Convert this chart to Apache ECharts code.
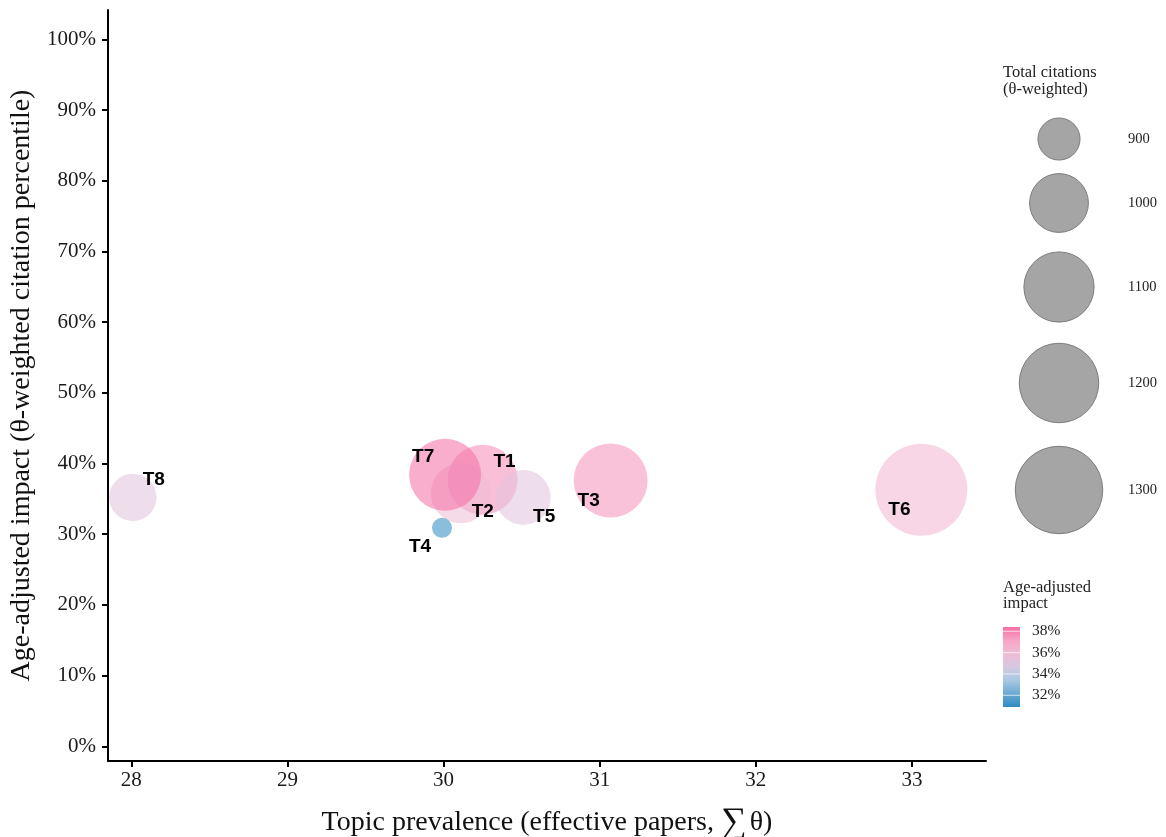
<!DOCTYPE html>
<html>
<head>
<meta charset="utf-8">
<script src="https://cdn.jsdelivr.net/npm/echarts@6/dist/echarts.min.js"></script>
<style>
html,body{margin:0;padding:0;background:#fff;}
#chart{width:1166px;height:837px;}
</style>
</head>
<body>
<div id="chart"></div>
<script>
// ---- data ----
const topics = ['T1','T2','T3','T4','T5','T6','T7','T8'];
const prevalence = [30.25, 30.11, 31.07, 29.99, 30.51, 33.06, 30.01, 28.01];
const impact = [37.7, 35.8, 37.6, 30.9, 35.2, 36.3, 38.4, 35.2];
const citations = [1098, 1009, 1139, 852, 972, 1362, 1118, 926];
const xTicks = [28, 29, 30, 31, 32, 33];
const yTicks = [0, 10, 20, 30, 40, 50, 60, 70, 80, 90, 100];
const sizeBreaks = [900, 1000, 1100, 1200, 1300];
const colorBreaks = [32, 34, 36, 38];

// ---- layout / style (not data) ----
const labelOffsets = {
  T1: [22, -18], T2: [22, 19], T3: [-22, 20], T4: [-22, 19],
  T5: [21, 19], T6: [-22, 20], T7: [-22, -18], T8: [21, -18]
};
const paletteRGB = [[47,139,195],[106,169,210],[169,201,227],[213,200,224],[240,188,212],[247,165,198],[245,111,165]];
const palette = paletteRGB.map(c => 'rgb(' + c.join(',') + ')');
const paletteA = paletteRGB.map(c => 'rgba(' + c.join(',') + ',0.7)');
const serif = '"Liberation Serif", "DejaVu Serif", serif';

const cMin = Math.min(...citations), cMax = Math.max(...citations);
const rMin = 10, rMax = 46;
function radius(v) {
  const f = Math.max(0, (v - cMin) / (cMax - cMin));
  return rMin + (rMax - rMin) * Math.sqrt(f);
}
const iMin = Math.min(...impact), iMax = Math.max(...impact);

const data = topics.map((t, i) => ({
  name: t,
  value: [prevalence[i], impact[i], citations[i]]
}));

// ---- legends (graphic) ----
const graphics = [];
graphics.push({
  type: 'text', left: 1003, top: 64,
  style: { text: 'Total citations\n(θ-weighted)', font: '16.5px ' + serif, fill: '#222', lineHeight: 17 }
});
const sizeCentersY = [139, 203, 287, 383, 490];
sizeBreaks.forEach((b, k) => {
  const r = radius(b);
  graphics.push({
    type: 'circle', shape: { cx: 1059, cy: sizeCentersY[k], r: r },
    style: { fill: 'rgba(127,127,127,0.7)', stroke: '#7d7d7d', lineWidth: 1 }
  });
  graphics.push({
    type: 'text', x: 1128, y: sizeCentersY[k],
    style: { text: String(b), font: '14.5px ' + serif, fill: '#222', verticalAlign: 'middle' }
  });
});
graphics.push({
  type: 'text', left: 1003, top: 579,
  style: { text: 'Age-adjusted\nimpact', font: '16.5px ' + serif, fill: '#222', lineHeight: 16 }
});
const barTop = 627, barH = 80, barX = 1003, barW = 17;
const stops = palette.map((c, k) => ({ offset: 1 - k / (palette.length - 1), color: c }));
stops.reverse();
graphics.push({
  type: 'rect', shape: { x: barX, y: barTop, width: barW, height: barH },
  style: { fill: new echarts.graphic.LinearGradient(0, 0, 0, 1, stops) }
});
colorBreaks.forEach(b => {
  const y = barTop + (iMax - b) / (iMax - iMin) * barH;
  graphics.push({
    type: 'line', shape: { x1: barX, y1: y, x2: barX + barW, y2: y },
    style: { stroke: 'rgba(255,255,255,0.7)', lineWidth: 1 }
  });
  graphics.push({
    type: 'text', x: 1032, y: y,
    style: { text: b + '%', font: '15.5px ' + serif, fill: '#222', verticalAlign: 'middle' }
  });
});

const chart = echarts.init(document.getElementById('chart'), null, { renderer: 'canvas' });
chart.setOption({
  backgroundColor: '#fff',
  animation: false,
  grid: { left: 108, right: 180, top: 10, bottom: 76, containLabel: false, outerBoundsMode: 'none' },
  xAxis: {
    type: 'value', min: 27.851, max: 33.474,
    name: 'Topic prevalence (effective papers, {s|∑}θ)',
    nameLocation: 'middle', nameGap: 44,
    nameTextStyle: { fontFamily: serif, fontSize: 28, color: '#111',
      rich: { s: { fontFamily: serif, fontSize: 36, color: '#111', padding: [0, 3, 0, 0] } } },
    axisLine: { onZero: false, lineStyle: { color: '#000', width: 2 } },
    axisTick: { show: true, length: 6, lineStyle: { color: '#000', width: 2 }, customValues: xTicks },
    axisLabel: { customValues: xTicks, fontFamily: serif, fontSize: 21, color: '#1a1a1a', margin: 9 },
    splitLine: { show: false }
  },
  yAxis: {
    type: 'value', min: -2.08, max: 104.15,
    name: 'Age-adjusted impact (θ-weighted citation percentile)',
    nameLocation: 'middle', nameGap: 66,
    nameTextStyle: { fontFamily: serif, fontSize: 28, color: '#111' },
    axisLine: { onZero: false, lineStyle: { color: '#000', width: 2 } },
    axisTick: { show: true, length: 6, lineStyle: { color: '#000', width: 2 }, customValues: yTicks },
    axisLabel: { customValues: yTicks, formatter: '{value}%', fontFamily: serif, fontSize: 21, color: '#1a1a1a', margin: 12 },
    splitLine: { show: false }
  },
  visualMap: {
    type: 'continuous', show: false, dimension: 1, seriesIndex: 0,
    min: iMin, max: iMax,
    inRange: { color: paletteA }
  },
  series: [{
    type: 'scatter',
    data: data,
    symbolSize: function (val) { return 2 * radius(val[2]); },
    label: { show: false },
    emphasis: { disabled: true }
  }, {
    // label layer: same data, no symbol, text only
    type: 'scatter',
    data: data.map(d => ({
      name: d.name, value: d.value,
      label: { offset: labelOffsets[d.name] }
    })),
    symbolSize: 0,
    itemStyle: { color: 'rgba(0,0,0,0)' },
    label: {
      show: true, position: 'inside', formatter: '{b}',
      fontFamily: '"Liberation Sans", Arial, sans-serif', fontWeight: 'bold', fontSize: 19,
      color: '#000', opacity: 1, textBorderWidth: 0
    },
    z: 5,
    emphasis: { disabled: true },
    silent: true
  }],
  graphic: graphics
});
</script>
</body>
</html>
